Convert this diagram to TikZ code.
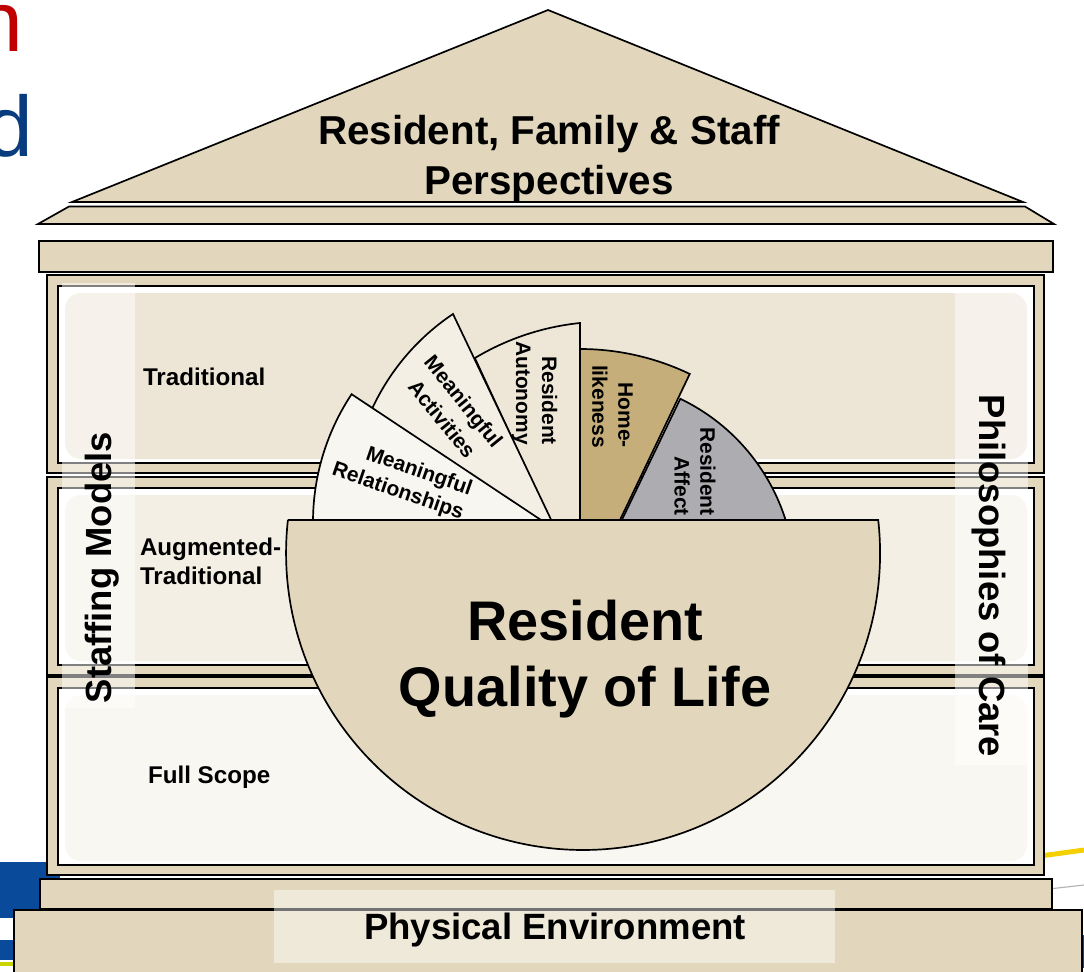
\documentclass[tikz,border=0pt]{standalone}
\usepackage{fontspec}
\setmainfont{Liberation Sans}
\usetikzlibrary{calc}
\definecolor{cTan}{HTML}{E2D7BC}
\definecolor{cFa}{HTML}{EDE6D7}
\definecolor{cFb}{HTML}{F3EFE5}
\definecolor{cFc}{HTML}{F9F7F2}
\definecolor{cHome}{HTML}{C5AE79}
\definecolor{cAffect}{HTML}{ADACB1}
\definecolor{cAuto}{HTML}{EEE7D8}
\definecolor{cAct}{HTML}{F3EFE4}
\definecolor{cRel}{HTML}{F8F6F1}
\definecolor{cRed}{HTML}{C00000}
\definecolor{cBlueT}{HTML}{083C7E}
\definecolor{cBlueB}{HTML}{0A4A9A}
\definecolor{cYel}{HTML}{F5D000}
\definecolor{cLime}{HTML}{C8D400}
\newcommand\fpt[1]{\fontsize{#1}{#1}\selectfont}
\begin{document}
\begin{tikzpicture}[x=0.025cm,y=-0.025cm,line join=miter,
  frame/.style={draw=black,line width=1.2pt,fill=cTan},
  inner/.style={draw=black,line width=0.9pt,fill=white},
  petal/.style={draw=black,line width=1.2pt},
  txt/.style={inner sep=0pt,outer sep=0pt,text=black},
  ptxt/.style={txt,anchor=center,align=right,font=\bfseries\fontsize{14.9}{18.4}\selectfont},
  band/.style={fill=white,opacity=0.5}]
\useasboundingbox (0,0) rectangle (1084,972);
\clip (0,0) rectangle (1084,972);
\fill[white] (0,0) rectangle (1084,972);
% remnants of the slide behind the picture
\node[txt,anchor=base west,text=cRed,font=\fpt{61}] (bgn) at (-24,52) {n};
\node[txt,anchor=base west,text=cBlueT,font=\fpt{61}] (bgd) at (-15,157) {d};
\fill[cBlueB] (0,862) rectangle (60,918);
\fill[cBlueB] (0,940) rectangle (20,960);
\fill[cLime] (0,962) rectangle (20,966);
\draw[cYel,line width=3.5pt] (960,867) -- (1084,850);
\draw[gray!60,line width=0.8pt] (1040,890) -- (1084,885);
\fill[cBlueB] (1080,935) rectangle (1084,968);
% roof
\filldraw[frame] (72,202) -- (548,10) -- (1023,202) -- cycle;
\filldraw[frame] (69,206.5) -- (1025,206.5) -- (1054,224) -- (38,224) -- cycle;
\filldraw[frame] (39,241) rectangle (1053,272);
% floors
\foreach \t/\b/\c in {275/473/cFa,477/675/cFb,677/875/cFc}{
  \filldraw[frame] (47,\t) rectangle (1044,\b);
  \filldraw[inner] (58,\t+11) rectangle (1034,\b-10);
  \fill[\c,rounded corners=4mm] (65,\t+18) rectangle (1027,\b-14);
}
% base
\filldraw[frame] (40,879) rectangle (1052,909);
\filldraw[frame,line width=1.8pt] (14,910) rectangle (1082,990);
\fill[white,opacity=0.45] (274,890) rectangle (835,963);
% side bands
\fill[band] (62,283) rectangle (135,708);
\fill[band] (955,288) rectangle (1028,765);
% petals
\filldraw[petal,fill=cAffect] (617,530) -- (680.3,398.8) arc[start angle=-64.4,end angle=0,radius=202] -- cycle;
\filldraw[petal,fill=cHome] (580,530) -- (580,349) arc[start angle=-90,end angle=-64.4,radius=254] -- (615.2,530) -- cycle;
\filldraw[petal,fill=cAuto] (580,530) -- (580,323) arc[start angle=-95.9,end angle=-121,radius=255] -- (554.6,530) -- cycle;
\filldraw[petal,fill=cAct] (556,530) -- (453,314) arc[start angle=-123.8,end angle=-160,radius=230] -- (545,525) -- cycle;
\filldraw[petal,fill=cRel] (544,522) -- (351.6,394.2) arc[start angle=-146.4,end angle=-185,radius=231] -- cycle;
% bowl
\filldraw[petal,fill=cTan] (287.8,520) -- (878.2,520) arc[start angle=-6.38,end angle=186.38,radius=297] -- cycle;
% texts
\node[txt,anchor=base,font=\bfseries\fpt{28.7}] (roofa) at (549,145) {Resident, Family \& Staff};
\node[txt,anchor=base,font=\bfseries\fpt{28.7}] (roofb) at (549,195) {Perspectives};
\node[txt,anchor=base,font=\bfseries\fpt{39.7}] (qola) at (585,640) {Resident};
\node[txt,anchor=base,font=\bfseries\fpt{39.7}] (qolb) at (585,706) {Quality of Life};
\node[txt,anchor=base west,font=\bfseries\fpt{17.2}] (trad) at (143,385) {Traditional};
\node[txt,anchor=base west,font=\bfseries\fpt{17.2}] (auga) at (140,555) {Augmented-};
\node[txt,anchor=base west,font=\bfseries\fpt{17.2}] (augb) at (140,584) {Traditional};
\node[txt,anchor=base west,font=\bfseries\fpt{17.2}] (full) at (148,783) {Full Scope};
\node[txt,anchor=base,rotate=90,font=\bfseries\fpt{25.9}] (staff) at (111.5,567.5) {Staffing Models};
\node[txt,anchor=base,rotate=-90,font=\bfseries\fpt{25.9}] (phil) at (979,576) {Philosophies of Care};
\node[txt,anchor=base,font=\bfseries\fpt{26}] (phys) at (555,939) {Physical Environment};
\node[ptxt,rotate=-90] (home) at (612.5,406.5) {Home-\\likeness};
\node[ptxt,rotate=-90] (affect) at (695,471.5) {Resident\\Affect};
\node[ptxt,rotate=-90] (auto) at (534.5,393) {Resident\\Autonomy};
\node[ptxt,rotate=-51,align=center,font=\bfseries\fontsize{14.9}{19.8}\selectfont] (act) at (453,410) {Meaningful\\Activities};
\node[ptxt,rotate=-19] (rel) at (402,480) {Meaningful\\Relationships};
\end{tikzpicture}
\end{document}
